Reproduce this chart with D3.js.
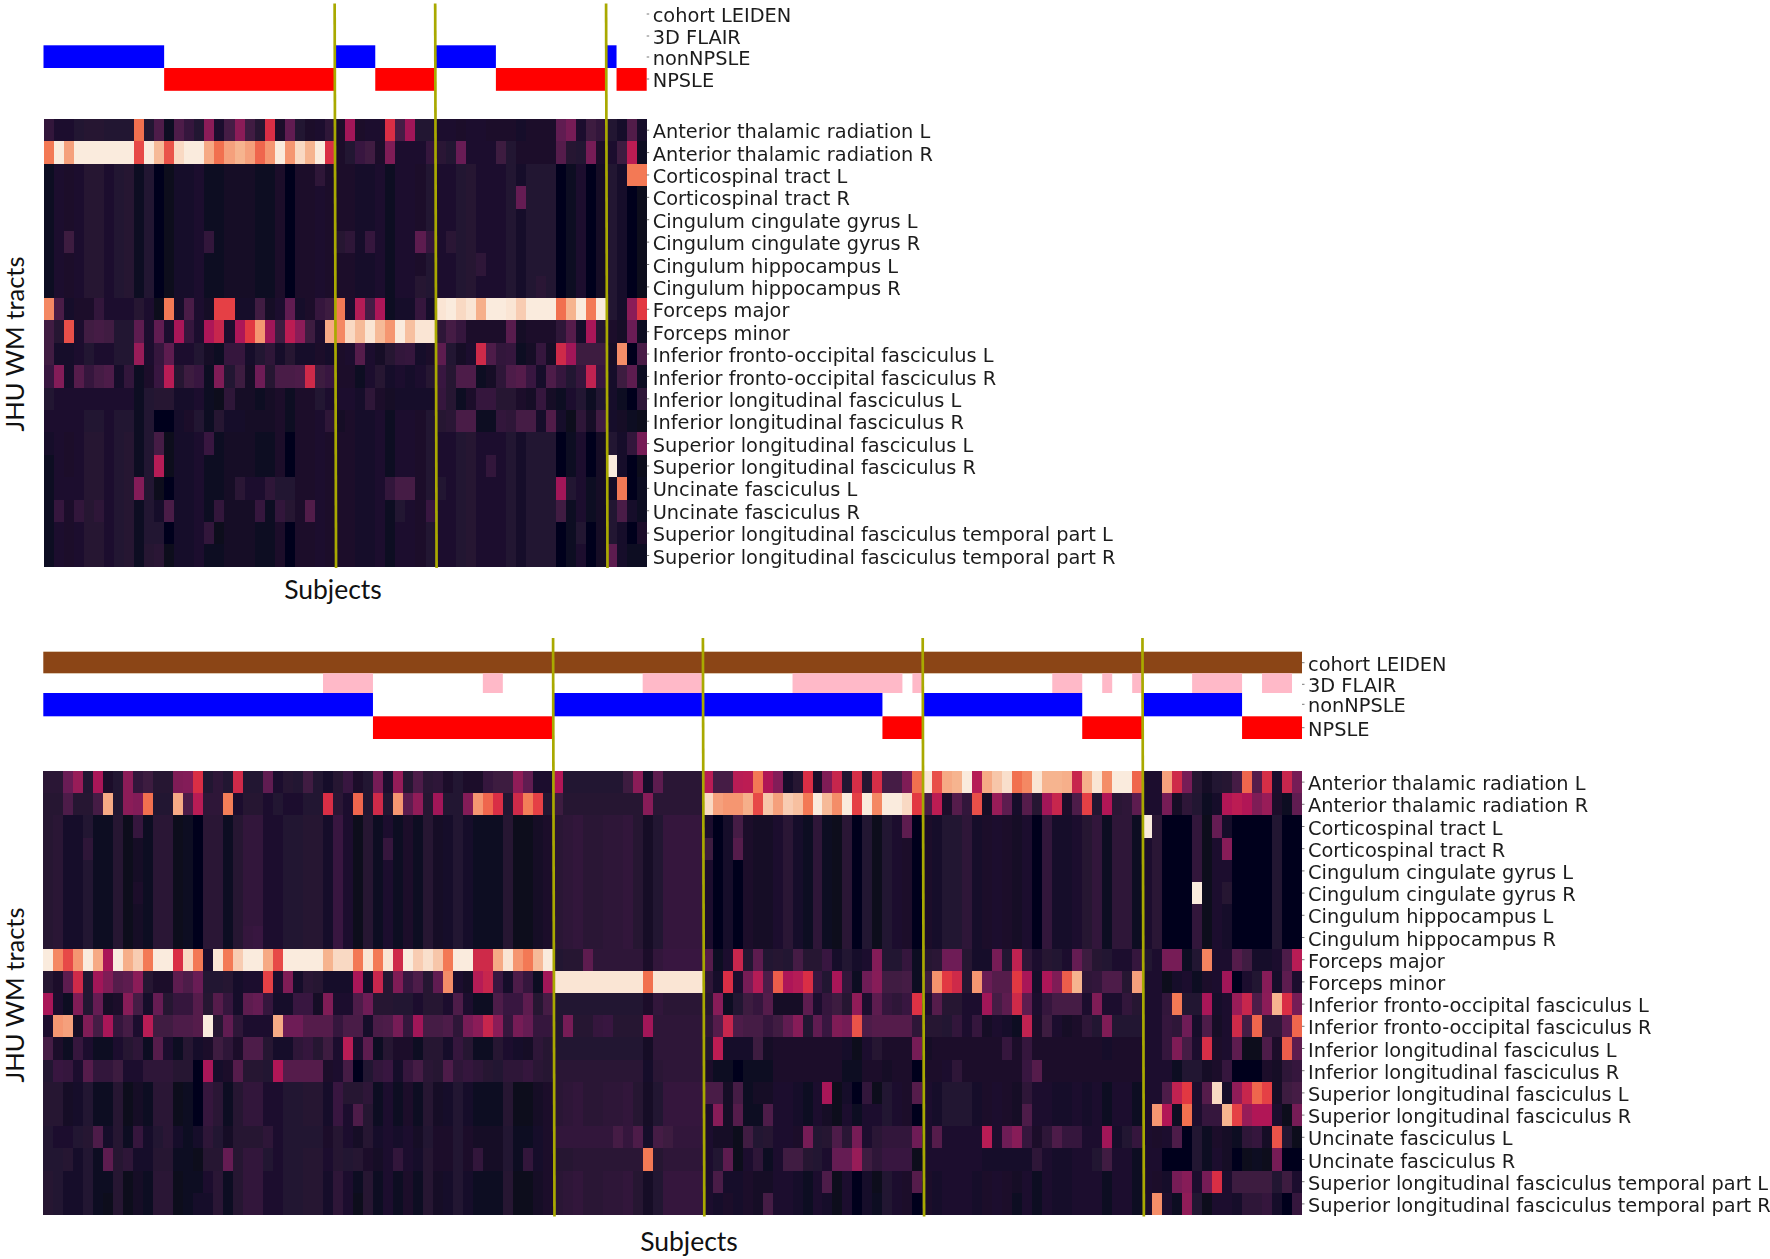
<!DOCTYPE html>
<html><head><meta charset="utf-8"><title>JHU WM tract heatmaps</title>
<script src="https://cdnjs.cloudflare.com/ajax/libs/d3/7.8.5/d3.min.js"></script>
<style>html,body{margin:0;padding:0;background:#fff}svg{display:block}</style></head><body>
<svg id="chart" width="1770" height="1259"></svg>
<script>
// ---------- categories ----------
const tracts = ["Anterior thalamic radiation L","Anterior thalamic radiation R","Corticospinal tract L","Corticospinal tract R","Cingulum cingulate gyrus L","Cingulum cingulate gyrus R","Cingulum hippocampus L","Cingulum hippocampus R","Forceps major","Forceps minor","Inferior fronto-occipital fasciculus L","Inferior fronto-occipital fasciculus R","Inferior longitudinal fasciculus L","Inferior longitudinal fasciculus R","Superior longitudinal fasciculus L","Superior longitudinal fasciculus R","Uncinate fasciculus L","Uncinate fasciculus R","Superior longitudinal fasciculus temporal part L","Superior longitudinal fasciculus temporal part R"];
const barRows = ["cohort LEIDEN","3D FLAIR","nonNPSLE","NPSLE"];
// ---------- colour-bar spans, in subject columns ----------
const topNon = [[0,12],[29,33],[39,45],[56,57]];
const topNP = [[12,29],[33,39],[45,56],[57,60]];
const topDividers = [29,39,56];
const botCohort = [[0,126]];
const botFlair = [[28,33],[44,46],[60,66],[75,86],[87,88],[101,104],[106,107],[109,110],[115,120],[122,125]];
const botNon = [[0,33],[51,84],[88,104],[110,120]];
const botNP = [[33,51],[84,88],[104,110],[120,126]];
const botDividers = [51,66,88,110];
// ---------- heat values (percent of colour range), one array per tract ----------
const t0=[13,8,8,9,10,10,9,9,9,70, 9,20,3,20,14,9,35,8,18,35, 17,10,55,7,25,9,7,8,12,7, 40,7,8,8,55,18,40,9,9,8, 8,7,8,8,7,7,7,6,7,7, 7,25,30,8,16,13,9,6,21,6];
const t1=[72,93,80,95,95,95,95,95,95,62, 95,85,64,90,95,95,82,70,80,84, 80,68,78,95,78,90,84,95,55,7, 9,15,17,7,32,8,8,8,14,11, 9,27,8,8,8,16,9,7,7,7, 7,22,10,9,30,7,8,16,47,4];
const t2=[4,8,7,8,10,10,8,9,10,4, 9,1,2,6,6,8,4,3,5,5, 5,4,4,7,1,7,7,12,7,7, 7,6,6,8,3,8,8,7,9,8, 8,9,10,8,8,8,9,6,9,9, 9,0,3,8,1,5,9,6,72,72];
const t3=[4,8,7,8,10,10,8,9,10,4, 9,1,2,6,6,8,4,3,5,5, 5,4,4,7,1,7,7,8,7,7, 7,6,6,8,3,8,8,7,9,8, 8,9,10,8,8,8,9,26,9,9, 9,0,3,8,1,5,9,6,0,2];
const t4=[4,8,7,8,10,10,8,9,10,4, 9,1,2,6,6,8,4,3,5,5, 5,4,4,7,1,7,7,8,7,7, 7,6,6,8,3,8,8,7,9,8, 8,9,10,8,8,8,9,6,9,9, 9,0,3,8,1,5,9,6,0,2];
const t5=[4,8,16,8,10,10,8,9,10,4, 9,1,2,6,6,8,13,3,5,5, 5,4,4,7,1,7,7,8,7,10, 12,6,14,8,3,8,8,24,14,8, 11,9,10,8,8,8,9,6,9,9, 9,0,3,8,1,5,9,6,0,2];
const t6=[4,8,7,8,10,10,8,9,10,4, 9,1,2,6,6,8,4,3,5,5, 5,4,4,7,1,7,7,8,7,7, 7,6,6,8,3,8,8,7,9,8, 8,9,10,12,8,8,9,6,9,9, 9,0,3,8,1,5,9,6,0,2];
const t7=[4,8,7,8,10,10,8,9,10,4, 9,1,2,6,6,8,4,3,5,5, 5,4,4,7,1,7,7,8,7,7, 7,6,6,8,3,8,8,10,9,8, 8,9,10,8,8,8,9,6,9,11, 9,0,3,8,1,5,9,6,0,2];
const t8=[75,19,6,7,7,13,8,8,8,10, 8,2,72,6,19,8,5,60,60,6, 6,17,5,8,25,6,7,14,16,72, 8,45,18,43,4,6,6,14,6,92, 93,90,92,83,95,93,92,88,95,95, 94,70,84,95,72,93,9,6,35,58];
const t9=[17,10,63,8,17,18,17,9,9,24, 8,25,8,42,14,8,43,50,8,43, 58,78,40,16,47,35,16,8,82,75, 90,85,92,85,78,94,86,92,92,12, 18,14,7,7,7,7,23,5,7,7, 7,12,22,6,42,10,7,5,27,3];
const t10=[17,6,6,8,9,8,8,9,9,38, 8,14,24,8,8,9,5,3,14,14, 6,9,12,6,10,6,6,7,6,7, 8,22,8,5,10,13,14,6,7,24, 9,5,8,52,20,13,14,4,5,14, 5,52,40,16,16,16,5,76,1,19];
const t11=[15,33,6,22,14,18,20,6,13,3, 7,15,46,10,16,15,4,32,9,16, 5,28,10,19,19,20,52,16,15,7, 7,3,8,10,6,8,6,8,10,15, 10,20,20,4,5,12,20,22,15,6, 20,14,9,14,48,15,6,16,24,4];
const t12=[9,8,8,8,8,8,8,8,8,3, 9,10,10,6,6,8,4,2,12,5, 5,4,5,7,3,7,7,9,8,8, 8,6,12,7,5,6,6,6,6,14, 10,4,7,14,14,10,10,7,5,14, 5,4,8,9,3,9,6,4,0,12];
const t13=[8,8,8,8,9,9,8,9,9,4, 9,0,1,6,7,9,3,10,6,6, 5,5,5,7,3,7,7,8,12,5, 7,6,6,8,3,8,8,7,9,10, 11,19,19,4,4,13,12,18,18,6, 21,6,2,12,5,17,6,5,4,2];
const t14=[6,8,7,8,10,10,8,9,10,4, 9,18,2,6,6,8,15,3,5,5, 5,4,4,7,1,7,7,8,7,7, 7,6,6,8,3,8,8,7,9,8, 8,9,10,8,8,8,9,6,9,9, 9,0,3,8,1,5,9,6,13,30];
const t15=[4,8,7,8,10,10,8,9,10,4, 9,45,2,6,6,8,4,3,5,5, 5,4,4,7,1,7,7,8,7,7, 7,6,6,8,3,8,8,7,9,8, 8,9,10,8,13,8,9,6,9,9, 9,0,3,8,1,5,95,6,0,2];
const t16=[4,8,8,8,10,10,8,9,10,33, 9,2,1,6,6,8,4,3,5,11, 8,8,12,9,9,7,7,8,7,7, 7,6,6,8,13,18,18,7,9,9, 8,9,10,8,8,8,9,6,9,9, 9,40,9,8,4,5,5,72,1,3];
const t17=[4,14,7,13,10,12,8,9,10,4, 9,6,19,6,6,8,4,13,5,5, 5,14,4,13,10,7,21,8,7,7, 7,6,6,8,3,9,8,7,15,8, 8,9,10,8,8,8,9,6,9,9, 9,17,3,8,3,5,9,19,6,3];
const t18=[3,8,7,8,10,10,8,9,10,4, 9,9,1,6,6,8,13,2,5,5, 5,4,4,7,1,7,7,8,7,7, 7,6,6,8,3,8,8,7,9,8, 8,9,10,8,8,8,9,6,9,9, 9,1,3,9,1,5,9,6,0,7];
const t19=[3,8,7,8,10,10,8,9,10,4, 10,11,2,6,6,8,4,3,5,5, 5,4,4,7,1,7,7,8,7,7, 7,6,6,8,3,8,8,7,9,8, 8,9,10,8,8,8,9,6,9,9, 9,1,3,8,1,5,24,6,3,3];

const b0=[11,11,27,38,9,42,7,9,35,13, 16,10,10,32,33,55,9,12,9,52, 9,9,25,8,10,9,17,9,6,10, 15,7,9,30,8,37,10,20,11,12, 7,9,7,7,14,16,16,36,25,8, 8,44,9,9,9,9,9,9,16,35, 6,24,11,11,11,11,46,18,18,46, 47,72,44,33,6,10,55,7,32,50, 9,54,10,54,18,18,32,70,92,63, 82,84,93,45,82,87,91,70,75,92, 84,84,83,50,83,92,76,94,94,68, 8,8,80,52,30,10,5,9,10,18, 68,22,54,8,50,30];
const b1=[10,10,20,10,10,18,82,9,35,33, 70,9,9,82,20,46,12,12,73,8, 10,10,8,9,8,8,9,9,55,11, 8,68,9,52,9,78,24,36,10,40, 9,9,33,78,68,55,9,52,73,60, 9,16,10,10,10,10,10,10,10,10, 34,11,11,11,11,11,90,80,78,78, 83,62,87,80,88,86,72,93,85,76, 93,60,93,75,93,93,90,58,19,47, 7,22,13,63,5,38,24,6,22,10, 40,50,7,20,60,9,44,11,12,24, 8,8,30,5,12,9,4,6,44,47, 44,32,38,7,3,25];
const b2=[10,11,6,6,9,3,4,10,2,14, 4,11,11,2,3,0,11,11,4,10, 13,13,8,8,9,9,10,10,6,15, 8,2,10,3,8,3,7,4,10,5, 6,9,6,3,3,3,10,2,2,5, 7,11,12,13,11,11,12,12,13,10, 5,9,14,14,14,14,8,1,6,18, 7,5,5,8,11,6,4,12,3,2, 11,1,9,2,9,8,24,0,7,6, 9,9,12,6,7,8,7,5,8,1, 13,6,6,8,10,13,4,12,12,3, 95,11,1,1,0,13,2,26,6,1, 1,1,1,9,0,0];
const b3=[10,11,6,6,12,3,4,10,2,5, 4,11,11,2,3,0,11,11,4,10, 13,13,8,8,9,9,10,10,6,15, 8,2,10,3,14,3,7,4,10,5, 6,9,6,3,3,3,10,2,2,5, 7,11,12,13,11,11,12,12,13,10, 5,9,14,14,14,14,16,1,6,22, 7,5,5,8,11,6,4,12,3,2, 11,1,9,2,9,8,7,0,7,6, 9,9,12,6,7,8,7,5,8,1, 13,6,6,8,10,13,4,12,12,3, 8,11,1,1,0,13,2,8,34,1, 1,1,1,9,0,0];
const b4=[10,11,6,6,9,3,4,10,2,5, 4,11,11,2,3,0,11,11,4,10, 13,13,8,8,9,9,10,10,6,15, 8,2,10,3,8,3,7,4,10,5, 6,9,6,3,3,3,10,2,2,5, 7,11,12,13,11,11,12,12,13,10, 5,9,14,14,14,14,8,1,6,1, 7,5,5,8,11,6,4,12,3,2, 11,1,9,2,9,8,7,0,7,6, 9,9,12,6,7,8,7,5,8,1, 13,6,6,8,10,13,4,12,12,3, 8,11,1,1,0,13,2,8,8,1, 1,1,1,9,0,0];
const b5=[10,11,6,6,9,3,4,10,2,7, 4,11,11,2,3,0,11,11,4,10, 13,13,8,8,9,9,10,10,6,15, 8,2,10,3,8,3,7,4,10,5, 6,9,6,3,3,3,10,2,2,5, 7,11,12,13,11,11,12,12,13,10, 5,9,14,14,14,14,8,1,6,1, 7,5,5,8,11,6,4,12,3,2, 11,1,9,2,9,8,7,0,7,6, 9,9,12,6,7,8,7,5,8,1, 13,6,6,8,10,13,4,12,12,3, 8,11,1,1,0,95,2,8,10,1, 1,1,1,9,0,0];
const b6=[10,11,6,6,9,3,4,10,2,5, 4,11,11,2,3,0,11,11,4,10, 13,13,8,8,9,9,10,10,6,15, 8,2,10,3,8,3,7,4,10,5, 6,9,6,3,3,3,10,2,2,5, 7,11,12,13,11,11,12,12,13,10, 5,9,14,14,14,14,8,1,6,1, 7,5,5,8,11,6,4,12,3,2, 11,1,9,2,9,8,7,0,7,6, 9,9,12,6,7,8,7,5,8,1, 13,6,6,8,10,13,4,12,12,3, 8,11,1,1,0,13,2,8,6,1, 1,1,1,9,0,0];
const b7=[10,11,6,6,9,3,4,10,2,5, 4,11,11,2,3,0,11,11,4,10, 14,15,8,8,9,9,10,10,6,15, 8,2,10,3,8,3,7,4,10,5, 6,9,6,3,3,3,10,2,2,5, 7,11,12,13,11,11,12,12,13,10, 5,9,14,14,14,14,8,1,6,1, 7,5,5,8,11,6,4,12,3,2, 11,1,9,2,9,8,7,0,7,6, 9,9,12,6,7,8,7,5,8,1, 13,6,6,8,10,13,4,12,12,3, 8,11,1,1,0,13,2,8,6,1, 1,1,1,9,0,0];
const b8=[93,75,62,78,93,82,42,94,83,88, 72,94,94,55,90,72,8,92,72,88, 93,93,82,62,93,93,93,93,84,90, 90,72,92,72,92,52,93,88,91,87, 72,94,94,52,52,82,92,78,72,85, 93,9,10,10,24,12,12,12,12,12, 7,13,15,15,15,15,22,4,8,50, 9,24,9,10,9,18,10,10,15,6, 9,6,8,33,9,9,14,3,10,11, 28,28,10,6,6,30,9,48,12,8, 10,9,8,26,16,10,9,8,8,14, 9,8,30,30,3,9,74,8,8,22, 17,6,6,8,20,46];
const b9=[10,7,24,52,9,40,32,22,24,35, 10,7,7,24,20,27,9,9,10,6, 8,8,60,8,32,6,11,10,6,6, 6,42,6,50,10,32,15,20,10,25, 76,8,5,45,50,15,6,20,14,4, 40,92,92,92,92,92,92,92,92,92, 70,92,92,92,92,92,12,6,55,8, 30,45,20,66,43,45,55,15,9,42, 13,4,28,34,17,17,18,4,16,77, 58,52,10,78,27,22,22,58,42,6, 43,32,66,84,12,13,20,20,10,80, 8,8,2,6,8,3,7,8,40,0, 8,9,34,6,24,8];
const b10=[42,8,4,32,9,26,5,7,34,18, 6,26,10,14,14,22,10,22,14,6, 24,26,14,6,6,15,15,5,32,8, 8,20,28,10,10,9,9,8,10,10, 8,20,8,4,4,20,15,15,24,10, 18,9,9,9,9,9,9,9,9,9, 7,13,11,11,11,11,10,34,4,9, 16,14,22,5,5,5,24,8,14,16, 10,36,8,24,14,12,15,56,8,22, 10,10,8,8,40,18,24,52,24,8, 14,18,18,18,8,32,8,8,13,10, 8,8,13,72,9,9,42,6,8,38, 50,20,35,84,55,30];
const b11=[8,78,80,5,32,18,42,14,18,8, 46,17,17,20,20,22,96,10,25,12, 8,8,8,82,28,28,22,22,22,14, 19,19,6,19,20,30,14,40,18,18, 20,12,30,35,50,35,14,30,26,14, 14,9,30,10,10,14,15,10,10,10, 40,12,12,12,12,12,12,22,50,20, 18,18,14,17,25,34,9,25,15,32, 30,64,20,22,22,22,22,12,10,10, 9,13,8,14,5,8,6,3,48,7, 16,8,5,7,12,9,32,9,9,9, 8,8,14,12,28,6,20,5,8,52, 18,68,12,12,24,68];
const b12=[18,7,4,14,8,4,4,8,10,12, 4,22,8,4,10,6,7,16,12,7, 20,20,10,6,6,12,14,10,16,8, 46,8,24,3,10,7,7,3,10,10, 6,14,10,3,3,10,8,6,5,12, 10,9,9,9,9,9,9,9,9,9, 5,12,12,12,12,12,9,47,6,6, 6,16,5,7,7,7,7,7,7,7, 6,2,8,10,7,7,7,30,5,7, 7,7,7,7,7,7,14,7,14,7, 7,7,7,7,7,7,6,7,7,7, 8,8,14,32,18,8,54,7,8,24, 2,2,20,7,66,24];
const b13=[9,15,14,8,22,13,13,16,8,8, 12,12,12,10,10,0,42,6,7,22, 10,10,9,44,22,22,22,22,7,8, 18,0,9,13,15,6,14,18,11,10, 20,12,14,12,10,9,12,12,14,11, 10,11,11,11,11,11,11,11,11,11, 6,11,12,12,12,12,7,4,4,1, 4,4,3,7,7,7,7,7,7,7, 4,3,7,7,5,7,7,1,7,7, 8,12,7,7,7,7,7,7,15,22, 7,7,7,7,7,7,7,7,7,7, 8,8,8,3,9,9,5,7,14,1, 1,1,7,5,12,14];
const b14=[10,10,5,6,9,3,4,10,2,5, 4,11,11,2,3,1,14,11,4,10, 13,13,8,8,9,9,10,10,6,15, 10,10,12,3,8,3,7,4,10,5, 6,9,6,3,3,3,10,2,2,5, 7,11,12,13,11,11,12,12,13,10, 5,9,14,14,14,14,19,19,5,18, 4,5,5,8,8,6,4,8,42,2, 6,1,13,2,9,8,7,22,8,6, 9,9,9,6,7,8,7,5,12,8, 8,6,6,8,6,8,4,8,8,3, 8,8,20,48,58,8,22,90,6,36, 50,68,60,5,16,18];
const b15=[10,10,5,6,9,3,4,10,2,5, 4,11,11,2,3,1,14,11,4,10, 13,13,8,8,9,9,10,10,6,15, 8,20,10,3,8,3,7,4,10,5, 6,9,6,3,3,3,10,2,2,5, 7,11,12,13,11,11,12,12,13,10, 5,9,14,14,14,14,8,34,5,22, 4,4,20,8,8,6,4,8,5,2, 8,4,8,8,9,8,7,1,8,6, 9,9,9,6,7,8,7,5,20,8, 8,6,6,8,6,8,4,8,8,3, 8,78,44,3,70,8,14,14,84,60, 38,44,44,8,2,30];
const b16=[9,8,8,9,10,20,6,10,4,14, 6,9,11,6,4,6,12,9,5,10, 10,10,12,8,9,9,9,9,7,10, 8,5,10,6,8,6,8,5,9,7, 7,9,7,5,5,5,9,4,4,6, 7,13,13,13,13,13,13,18,14,20, 6,18,16,13,13,13,8,5,5,2, 17,9,10,8,8,7,30,9,10,20, 11,30,8,11,13,13,13,28,8,22, 8,8,8,8,46,8,28,34,14,7, 12,20,14,14,8,8,40,6,9,14, 8,7,8,20,1,9,3,7,5,4, 12,14,5,64,9,2];
const b17=[9,9,10,6,9,4,24,10,12,6, 6,10,10,4,4,2,10,10,26,10, 13,13,9,8,9,9,10,10,8,10, 9,10,7,5,8,13,8,6,10,7, 7,9,7,13,5,5,9,4,13,6, 7,10,10,11,11,11,11,11,11,11, 72,10,12,12,12,12,8,9,24,2, 8,12,4,8,17,17,10,9,8,26, 26,38,16,12,15,15,15,2,8,8, 8,8,8,8,6,6,6,6,6,12, 8,6,6,8,8,9,17,8,8,4, 8,8,1,1,1,9,3,8,5,1, 2,4,2,30,0,0];
const b18=[10,9,6,6,9,3,3,10,2,5, 4,11,11,2,3,3,8,11,4,10, 13,13,8,8,9,9,10,10,6,12, 8,4,10,3,8,3,7,4,10,5, 6,9,6,3,3,3,10,2,2,5, 7,11,12,13,11,11,12,12,13,10, 5,9,14,14,14,14,8,19,6,6, 7,5,5,8,8,6,4,8,20,2, 8,1,6,2,9,8,7,22,7,6, 8,8,8,6,7,8,7,5,8,3, 8,6,6,8,8,8,4,8,8,3, 8,7,6,30,34,8,30,55,8,16, 16,16,16,9,16,8];
const b19=[10,9,6,6,9,3,2,10,2,5, 4,11,11,2,4,6,6,11,4,10, 13,13,8,8,9,9,10,10,6,12, 8,2,10,3,8,3,7,4,10,5, 6,9,6,3,3,3,10,2,2,5, 7,11,12,13,11,11,12,12,13,10, 5,9,14,14,14,14,8,6,7,6, 7,5,18,8,8,6,4,8,6,2, 8,1,6,3,9,8,7,1,7,6, 8,8,8,6,7,8,7,3,8,3, 8,6,6,8,8,8,4,8,8,3, 8,76,8,3,36,9,2,8,8,6, 12,12,14,6,1,14];

const topRows=[t0,t1,t2,t3,t4,t5,t6,t7,t8,t9,t10,t11,t12,t13,t14,t15,t16,t17,t18,t19];
const botRows=[b0,b1,b2,b3,b4,b5,b6,b7,b8,b9,b10,b11,b12,b13,b14,b15,b16,b17,b18,b19];

// seaborn "rocket" colour ramp; the lightest cream is reached near the top of the read values
const rocketStops=["#03051a","#35193e","#701f57","#ad1759","#e13342","#f37651","#f6b48f","#faebdd"];
const rocketDomain=[0,14.3,28.6,42.9,57.1,71.4,84,93];
const rocket=d3.scaleLinear().domain(rocketDomain).range(rocketStops).interpolate(d3.interpolateRgb).clamp(true);

const barColors={"cohort LEIDEN":"#8b4513","3D FLAIR":"#ffb9c8","nonNPSLE":"#0000ff","NPSLE":"#ff0000"};
const labelFont='"DejaVu Sans",sans-serif', titleFont='Lato,"Open Sans",sans-serif', ink="#1c1c1c", divider="#a9a900";

const svg=d3.select("#chart");
const defs=svg.append("defs");
defs.append("filter").attr("id","soft").attr("x","-2%").attr("y","-2%").attr("width","104%").attr("height","104%")
  .append("feGaussianBlur").attr("stdDeviation",0.55);

function panel(cfg){
  const x=d3.scaleLinear().domain([0,cfg.rows[0].length]).range(cfg.xRange);
  const y=d3.scaleBand().domain(tracts).range(cfg.yRange);
  const g=svg.append("g");
  const marks=g.append("g").attr("filter","url(#soft)");

  // colour bars
  const barTop=d=>cfg.barEdges[barRows.indexOf(d)];
  const barH=d=>cfg.barEdges[barRows.indexOf(d)+1]-barTop(d);
  cfg.bars.forEach(([name,spans])=>{
    marks.append("g").selectAll("rect").data(spans).join("rect")
      .attr("x",d=>x(d[0])).attr("width",d=>x(d[1])-x(d[0]))
      .attr("y",barTop(name)).attr("height",barH(name)).attr("fill",barColors[name]);
  });

  // heat cells
  marks.append("g").attr("shape-rendering","crispEdges").selectAll("g").data(cfg.rows).join("g")
    .attr("transform",(_,i)=>`translate(0,${y(tracts[i])})`)
    .selectAll("rect").data(d=>d).join("rect")
      .attr("x",(_,i)=>x(i)).attr("width",(_,i)=>x(i+1)-x(i))
      .attr("height",y.bandwidth()).attr("fill",d=>rocket(d));

  // tract axis
  const ax=g.append("g").attr("transform",`translate(${cfg.xRange[1]},0)`)
    .call(d3.axisRight(y).tickSize(2.5).tickPadding(cfg.pad));
  ax.select(".domain").remove();
  ax.selectAll("line").attr("stroke","#555").attr("stroke-width",0.8);
  ax.selectAll("text").attr("font-family",labelFont).attr("font-size",19.35).attr("fill",ink).attr("dy","0.42em");

  // colour-bar labels
  const lab=g.append("g").selectAll("g").data(barRows).join("g")
    .attr("transform",(d,i)=>`translate(${cfg.xRange[1]},${cfg.barTicks[i]})`);
  lab.append("line").attr("x1",0).attr("x2",2.5).attr("stroke","#555").attr("stroke-width",0.8);
  lab.append("text").attr("x",2.5+cfg.pad).attr("dy","0.42em").attr("font-family",labelFont)
    .attr("font-size",19.35).attr("fill",ink).text(d=>d);

  // dividers between groups
  marks.append("g").selectAll("line").data(cfg.dividers).join("line")
    .attr("x1",d=>x(d)-0.4+cfg.lineShift).attr("x2",d=>x(d)+1+cfg.lineShift)
    .attr("y1",cfg.lineY[0]).attr("y2",cfg.lineY[1])
    .attr("stroke",divider).attr("stroke-width",2.7);

  // titles
  g.append("text").attr("x",cfg.subjects[0]).attr("y",cfg.subjects[1]).attr("text-anchor","middle")
    .attr("font-family",titleFont).attr("font-size",26.5).attr("fill","#111").text("Subjects");
  g.append("text").attr("transform",`translate(${cfg.ylab[0]},${cfg.ylab[1]}) rotate(-90)`).attr("text-anchor","middle")
    .attr("font-family",titleFont).attr("font-size",25.5).attr("fill","#111").text("JHU WM tracts");
}

panel({rows:topRows,xRange:[43.5,646.7],yRange:[119,566.7],barEdges:[0,22.75,45.3,68,90.8],
  barTicks:[14,36,57,79],bars:[["nonNPSLE",topNon],["NPSLE",topNP]],dividers:topDividers,lineShift:0,
  lineY:[3.5,568],pad:3.5,subjects:[333,599],ylab:[24,344]});
panel({rows:botRows,xRange:[43.3,1302],yRange:[771,1215],barEdges:[651.7,673.3,693,716.3,739],
  barTicks:[662.7,684.3,704.3,727.7],bars:[["cohort LEIDEN",botCohort],["3D FLAIR",botFlair],["nonNPSLE",botNon],["NPSLE",botNP]],dividers:botDividers,lineShift:0.7,
  lineY:[638,1216.5],pad:3.5,subjects:[689,1251],ylab:[24,995]});
</script></body></html>
